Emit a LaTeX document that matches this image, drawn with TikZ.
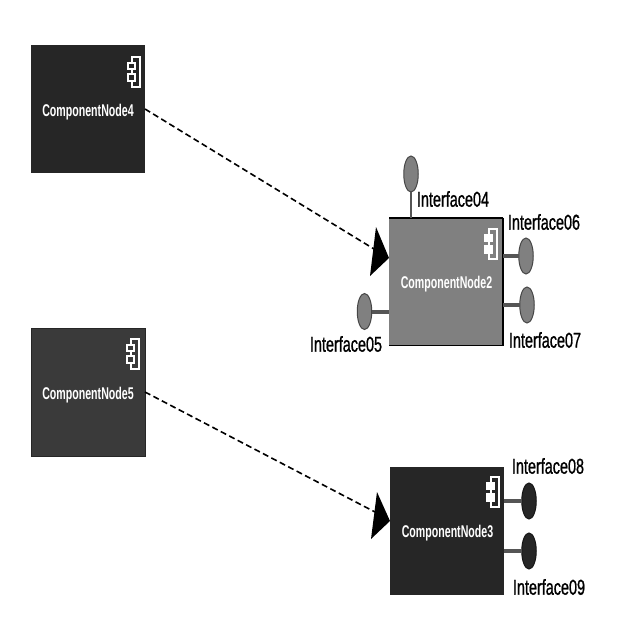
\documentclass[tikz,border=0pt]{standalone}
\usepackage{fontspec}
\setmainfont{Liberation Sans}
\newfontfamily\thicksans[FakeBold=1.2]{Liberation Sans}
\usetikzlibrary{shapes.geometric}
\definecolor{darkbox}{HTML}{262626}
\definecolor{midbox}{HTML}{3A3A3A}
\definecolor{greybox}{HTML}{808080}
\definecolor{stemgrey}{HTML}{555555}
\tikzset{
  x=1pt,y=-1pt,
  comp/.style={rectangle,fill=#1,minimum width=114pt,minimum height=128pt,inner sep=0pt,outer sep=0pt},
  compname/.style={text=white,font=\bfseries\fontsize{17}{18}\selectfont,xscale=0.625,inner sep=0pt},
  iface/.style={ellipse,draw=#1!55!black,line width=1pt,fill=#1,minimum width=14.5pt,minimum height=36pt,inner sep=0pt,outer sep=0pt},
  ifname/.style={text=black,font=\thicksans\fontsize{21.5}{23}\selectfont,xscale=0.67,inner sep=0pt},
  stem/.style={draw=stemgrey,line width=#1},
  link/.style={draw=black,line width=1.6pt,dash pattern=on 6pt off 3.5pt},
  head/.style={fill=black,draw=none},
  pics/compicon/.style args={#1/#2}{code={
    \draw[white,line width=1.4pt,fill=#1] (1,0) -- (9,0) -- (9,30) -- (1,30) -- cycle;
    \draw[white,line width=1.4pt,fill=#2] (-3,6) rectangle (4,12);
    \draw[white,line width=1.4pt,fill=#2] (-3,17) rectangle (4,24);
  }}
}
\begin{document}
\begin{tikzpicture}
\useasboundingbox[fill=white] (0,0) rectangle (640,640);

% components
\node[comp=darkbox] (n4) at (88,109) {};
\node[comp=midbox] (n5) at (88,392) {};
\node[comp=greybox] (n2) at (446,281.5) {};
\node[comp=darkbox] (n3) at (447,531) {};
\draw[black,line width=2pt] (n2.north west) -- (n2.north east);
\draw[black,line width=1.5pt] (n2.north east) -- (n2.south east) -- (n2.south west);
\draw[darkbox,line width=1pt] (n5.north west) rectangle (n5.south east);

% component icons
\pic at (131,57) {compicon=darkbox/darkbox};
\pic at (130,339) {compicon=midbox/midbox};
\pic at (488,229) {compicon=greybox/white};
\pic at (490,477) {compicon=darkbox/white};

% component names
\node[compname] (n4t) at (88,112.5) {ComponentNode4};
\node[compname] (n5t) at (88,395) {ComponentNode5};
\node[compname] (n2t) at (446.5,284.5) {ComponentNode2};
\node[compname] (n3t) at (447.5,533.5) {ComponentNode3};

% provided interfaces
\node[iface=greybox] (i4) at (411,174) {};
\node[iface=greybox] (i5) at (364.5,311.5) {};
\node[iface=greybox] (i6) at (526,256) {};
\node[iface=greybox] (i7) at (527,305) {};
\node[iface=darkbox] (i8) at (529,501) {};
\node[iface=darkbox] (i9) at (529,551) {};

\draw[stem=2pt] (i4.south) -- (i4.south |- n2.north);
\draw[stem=4pt] (i5.east) -- (i5.east -| n2.west);
\draw[stem=4pt] (i6.west) -- (i6.west -| n2.east);
\draw[stem=4pt] (i7.west) -- (i7.west -| n2.east);
\draw[stem=4pt] (i8.west) -- (i8.west -| n3.east);
\draw[stem=4pt] (i9.west) -- (i9.west -| n3.east);

% interface names
\node[ifname] (i4t) at (453,199) {Interface04};
\node[ifname] (i5t) at (346,344) {Interface05};
\node[ifname] (i6t) at (544,222) {Interface06};
\node[ifname] (i7t) at (545,340) {Interface07};
\node[ifname] (i8t) at (548,466) {Interface08};
\node[ifname] (i9t) at (549,587) {Interface09};

% dependencies with their heads
\coordinate (t2) at (389,258);
\coordinate (t3) at (390,521);
\path[link] (n4.east) -- (374,249);
\path[link] (n5.east) -- (375,512);
\fill[head] (t2) -- (376,227) -- (370,276) -- cycle;
\fill[head] (t3) -- (377,492) -- (371,539) -- cycle;
\end{tikzpicture}
\end{document}
